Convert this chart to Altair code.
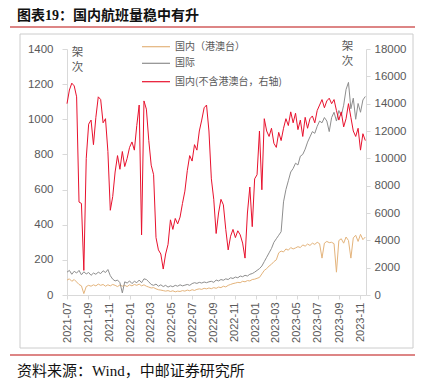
import altair as alt
import pandas as pd

# ---------------- data ----------------
start_date = "2021-07-01"
n_points = 125
dates = pd.date_range(start_date, periods=n_points, freq="7D")

series_names = ["国内（港澳台）", "国际", "国内(不含港澳台，右轴)"]
series_colors = ["#E4B47C", "#8E8E8E", "#E8112D"]

# 国内（港澳台）, left axis
hmt = [85, 92, 78, 88, 74, 60, 52, 8, 48, 55,
       50, 58, 52, 62, 55, 60, 50, 58, 52, 60,
       55, 48, 57, 50, 55, 48, 58, 52, 60, 55,
       62, 52, 58, 50, 45, 40, 42, 35, 30, 28,
       25, 22, 25, 20, 24, 18, 22, 20, 25, 22,
       28, 24, 30, 26, 32, 35, 32, 38, 35, 40,
       36, 42, 38, 45, 42, 50, 46, 55, 60, 65,
       68, 72, 70, 78, 75, 82, 80, 88, 90, 95,
       100, 120, 140, 150, 165, 175, 190, 200, 240, 250,
       245, 262, 255, 270, 262, 268, 275, 270, 285, 278,
       290, 282, 295, 288, 300, 292, 210, 295, 305, 298,
       300, 292, 130, 310, 320, 295, 330, 310, 210, 325,
       340, 305, 345, 315, 330]

# 国际, left axis
intl = [130, 140, 118, 135, 125, 140, 115, 132, 120, 128,
        112, 125, 118, 130, 122, 138, 128, 145, 110, 90,
        80, 85, 70, 12, 75, 68, 80, 65, 78, 70,
        85, 70, 92, 88, 75, 60, 55, 62, 50, 58,
        48, 55, 45, 52, 47, 55, 50, 58, 52, 56,
        60, 55, 65, 70, 66, 72, 68, 74, 70, 75,
        78, 72, 85, 80, 88, 84, 92, 88, 98, 94,
        102, 98, 108, 104, 112, 108, 118, 122, 130, 140,
        150, 165, 190, 215, 240, 265, 300, 320, 340, 360,
        530, 600, 650, 700, 720, 750, 740, 790, 800, 830,
        870, 900, 930, 920, 960, 990, 980, 1010, 990, 930,
        1010, 1040, 990, 1050, 1020, 1080, 1170, 1210, 1060, 1120,
        1000, 1090, 1040, 1110, 1130]

# 国内(不含港澳台), right axis
dom = [14000, 15000, 15500, 15300, 14500, 6800, 6700, 1800, 10000, 12500,
       12800, 11000, 13000, 14500, 14300, 12600, 12900, 10500, 6200, 7200,
       9000, 10200, 9200, 10500, 9400, 10000, 10800, 11200, 10600, 12400,
       13900, 4400, 14200, 13600, 11300, 9500, 8800, 4200, 3300, 3000,
       1900, 3000, 3700, 5500, 4800, 5600, 5200, 5700, 6700, 7600,
       9100, 10200, 9800, 11000, 10600, 12000, 12800, 13700, 13900, 12000,
       8500, 7000, 4500, 6000, 7000, 6600, 4800, 3300, 4300, 4800,
       4200, 4700, 4400, 3800, 2700, 6000, 7900, 5000, 8500, 8800,
       12000, 7700, 12900, 12000, 11600, 12200, 11100, 10800, 11900, 11300,
       12200, 12900, 12400, 13400, 12600, 13300, 12100, 12800, 11600, 13000,
       12200, 12900, 13100, 12600, 13500, 13900, 14300, 13700, 14200, 14400,
       14000, 14300, 13500, 12800, 13400, 12300, 12900, 14000, 13000, 12000,
       11600, 12200, 10600, 11800, 11300]

left_ticks = [0, 200, 400, 600, 800, 1000, 1200, 1400]
right_ticks = [0, 2000, 4000, 6000, 8000, 10000, 12000, 14000, 16000, 18000]
x_tick_months = [(2021, 7), (2021, 9), (2021, 11), (2022, 1), (2022, 3), (2022, 5),
                 (2022, 7), (2022, 9), (2022, 11), (2023, 1), (2023, 3), (2023, 5),
                 (2023, 7), (2023, 9), (2023, 11)]

title_text = "图表19：国内航班量稳中有升"
source_text = "资料来源：Wind，中邮证券研究所"
unit_text = "架次"

# ---------------- tables ----------------
df_left = pd.DataFrame({
    "date": list(dates) * 2,
    "value": hmt + intl,
    "series": [series_names[0]] * n_points + [series_names[1]] * n_points,
})
df_right = pd.DataFrame({"date": dates, "value": dom, "series": series_names[2]})
one = pd.DataFrame({"k": [0]})

CJK = "Noto Sans CJK SC"
SERIF = "'Liberation Serif', 'Noto Sans CJK SC'"
LBL = "#595959"
AX = "#d9d9d9"

x_enc = alt.X(
    "date:T",
    scale=alt.Scale(domain=[alt.DateTime(year=2021, month=7, date=1),
                            alt.DateTime(year=2023, month=11, date=18)]),
    axis=alt.Axis(values=[alt.DateTime(year=y, month=m, date=1) for y, m in x_tick_months],
                  format="%Y-%m", labelAngle=270, title=None, tickSize=4,
                  labelPadding=3, labelFontSize=11, domainColor=AX, tickColor=AX,
                  labelColor=LBL, grid=False, labelFont="Liberation Sans"),
)

color_enc = alt.Color(
    "series:N",
    scale=alt.Scale(domain=series_names, range=series_colors),
    legend=None,
)

left_lines = alt.Chart(df_left).mark_line(strokeWidth=1).encode(
    x=x_enc,
    y=alt.Y("value:Q", scale=alt.Scale(domain=[0, 1400], nice=False),
            axis=alt.Axis(orient="left", values=left_ticks, format="d", title=None,
                          tickSize=5, labelPadding=9, labelFontSize=11.5,
                          domainColor=AX, tickColor=AX, labelColor=LBL, grid=False,
                          labelFont="Liberation Sans")),
    color=color_enc,
)

right_line = alt.Chart(df_right).mark_line(strokeWidth=1).encode(
    x=x_enc,
    y=alt.Y("value:Q", scale=alt.Scale(domain=[0, 18000], nice=False),
            axis=alt.Axis(orient="right", values=right_ticks, format="d", title=None,
                          tickSize=4, labelPadding=4, labelFontSize=11.5,
                          domainColor=AX, tickColor=AX, labelColor=LBL, grid=False,
                          labelFont="Liberation Sans")),
    color=color_enc,
)

# legend drawn inside the plot, top centre
legend_rows_y = [-2.3, 14.3, 32.7]
legend_layers = []
for name, col, ly in zip(series_names, series_colors, legend_rows_y):
    legend_layers.append(
        alt.Chart(one).mark_rule(color=col, strokeWidth=1.2).encode(
            x=alt.value(75), x2=alt.value(103), y=alt.value(ly)))
    legend_layers.append(
        alt.Chart(one).mark_text(text=name, align="left", baseline="middle",
                                 fontSize=10, font=CJK, color=LBL).encode(
            x=alt.value(108), y=alt.value(ly)))

box = alt.Chart(one).mark_rect(fillOpacity=0, stroke="#cccccc", strokeWidth=1).encode(
    x=alt.value(-47), x2=alt.value(346), y=alt.value(-15), y2=alt.value(299))

top_rule = alt.Chart(one).mark_rule(color="#D25C5C", strokeWidth=1.5).encode(
    x=alt.value(-57), x2=alt.value(348), y=alt.value(-22))
bottom_rule = alt.Chart(one).mark_rule(color="#D25C5C", strokeWidth=1.5).encode(
    x=alt.value(-57), x2=alt.value(348), y=alt.value(306))

title = alt.Chart(one).mark_text(text=title_text, align="left", baseline="alphabetic",
                                 fontSize=14, fontWeight="bold", font=SERIF,
                                 color="#111111").encode(
    x=alt.value(-50), y=alt.value(-29.5))
source = alt.Chart(one).mark_text(text=source_text, align="left", baseline="alphabetic",
                                  fontSize=15, font=SERIF, color="#111111").encode(
    x=alt.value(-50), y=alt.value(327))

unit_layers = []
for ux, uy1, uy2 in [(10.5, 3.5, 18.5), (280.5, -2, 13)]:
    unit_layers.append(alt.Chart(one).mark_text(text=unit_text[0], fontSize=11.5, font=CJK,
                                                color=LBL, baseline="middle").encode(
        x=alt.value(ux), y=alt.value(uy1)))
    unit_layers.append(alt.Chart(one).mark_text(text=unit_text[1], fontSize=11.5, font=CJK,
                                                color=LBL, baseline="middle").encode(
        x=alt.value(ux), y=alt.value(uy2)))

chart = alt.layer(
    box, top_rule, bottom_rule, title, source,
    *unit_layers, *legend_layers,
    left_lines, right_line,
).resolve_scale(y="independent").properties(
    width=299, height=246,
    autosize=alt.AutoSizeParams(type="none"),
    padding={"left": 59, "top": 41, "right": 51, "bottom": 88},
    background="white",
).configure_view(stroke=None)

chart.save("out.html", embed_options={"renderer": "svg", "actions": False})
